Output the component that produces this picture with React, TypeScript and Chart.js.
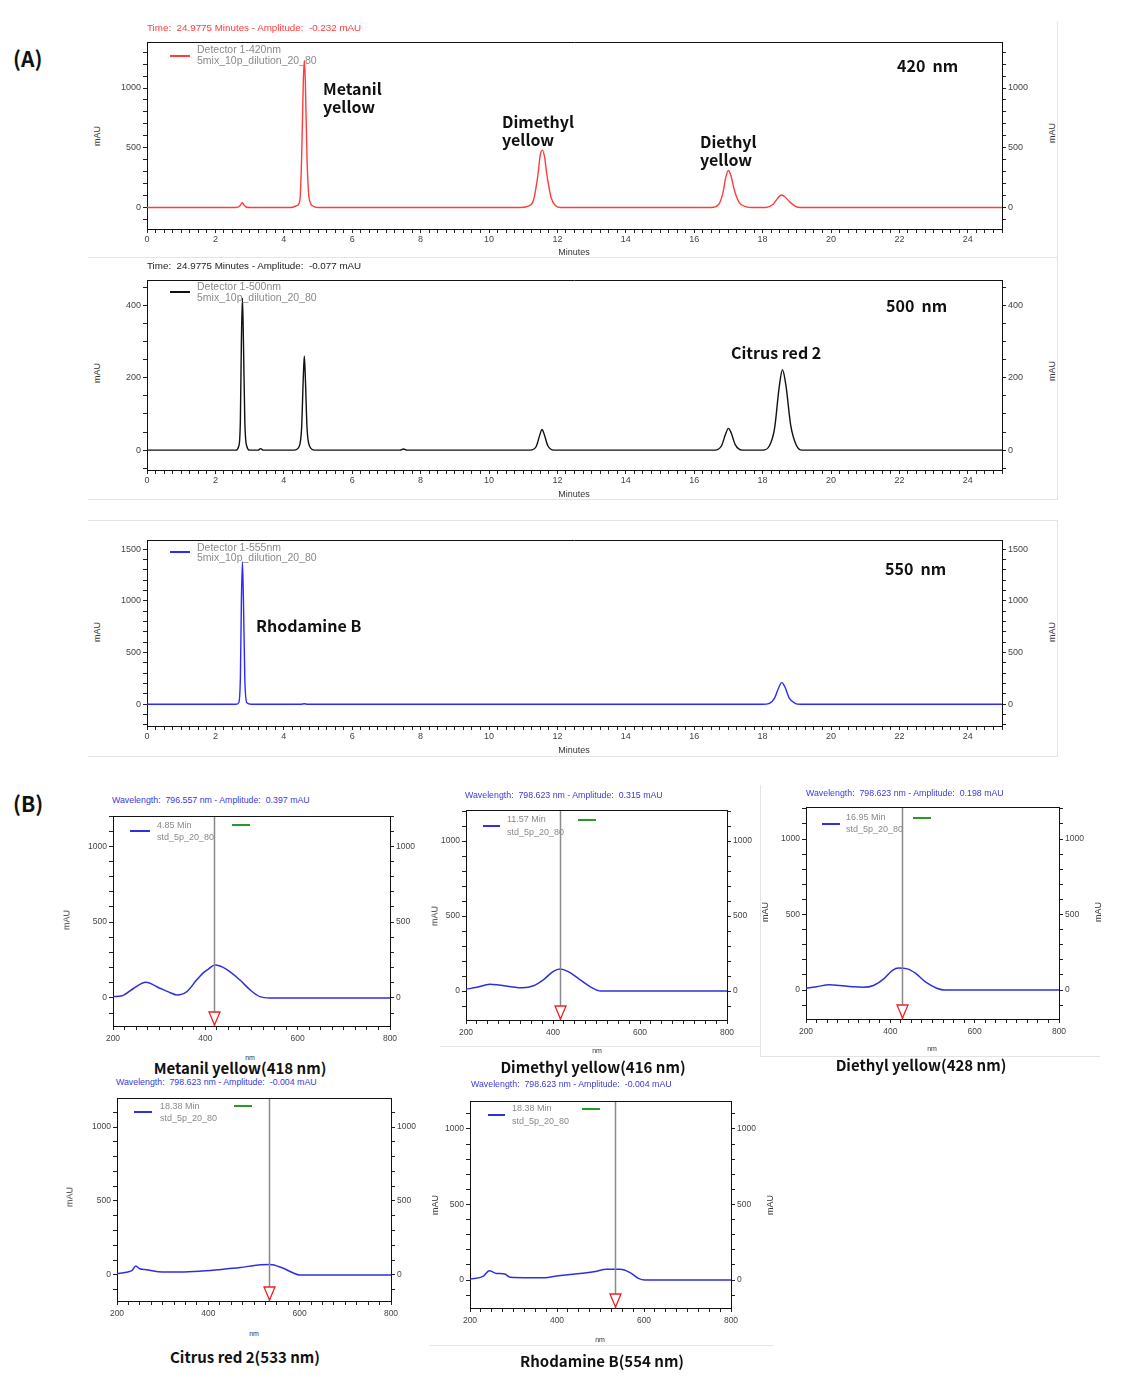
import React, { useEffect, useRef } from "react";
import { Chart, registerables } from "chart.js";
Chart.register(...registerables);

// ---------- Chromatogram data (minutes, mAU) ----------
const t420 = [0, 2.6, 2.7, 2.75, 2.79, 2.83, 2.9, 3.0, 4.2, 4.38, 4.47, 4.52, 4.57, 4.6, 4.63, 4.68, 4.74, 4.84, 5.0, 10.9, 11.15, 11.3, 11.42, 11.5, 11.56, 11.62, 11.7, 11.82, 11.95, 12.1, 16.5, 16.7, 16.83, 16.93, 17.0, 17.07, 17.18, 17.32, 17.5, 17.7, 18.1, 18.3, 18.45, 18.55, 18.65, 18.8, 18.95, 19.1, 25];
const a420 = [0, 0, 8, 28, 40, 22, 4, 0, 0, 15, 60, 400, 1050, 1230, 1050, 400, 80, 15, 0, 0, 12, 60, 250, 440, 480, 430, 260, 80, 15, 0, 0, 20, 110, 260, 310, 270, 140, 40, 8, 0, 0, 25, 80, 105, 90, 45, 12, 0, 0];

const t500 = [0, 2.6, 2.68, 2.73, 2.76, 2.79, 2.82, 2.86, 2.92, 3.0, 3.25, 3.32, 3.4, 4.3, 4.45, 4.52, 4.57, 4.6, 4.63, 4.68, 4.76, 4.9, 7.4, 7.5, 7.6, 11.2, 11.38, 11.48, 11.55, 11.62, 11.72, 11.9, 16.6, 16.8, 16.92, 17.0, 17.08, 17.2, 17.4, 18.0, 18.2, 18.35, 18.48, 18.58, 18.68, 18.82, 18.98, 19.15, 25];
const a500 = [0, 0, 10, 80, 300, 420, 300, 80, 10, 0, 0, 4, 0, 0, 10, 60, 200, 260, 200, 60, 10, 0, 0, 3, 0, 0, 10, 40, 57, 42, 12, 0, 0, 12, 45, 60, 48, 15, 0, 0, 12, 60, 170, 222, 180, 70, 15, 0, 0];

const t555 = [0, 2.6, 2.68, 2.73, 2.76, 2.79, 2.82, 2.86, 2.92, 3.05, 4.5, 4.6, 4.7, 18.0, 18.2, 18.35, 18.47, 18.56, 18.65, 18.78, 18.95, 19.1, 25];
const a555 = [0, 0, 15, 250, 1000, 1380, 1000, 250, 15, 0, 0, 5, 0, 0, 10, 60, 160, 210, 170, 60, 10, 0, 0];

const minuteLabels = [0, 2, 4, 6, 8, 10, 12, 14, 16, 18, 20, 22, 24];

// ---------- UV-Vis spectra data (nm, mAU) ----------
const nmMetanil = [200, 220, 245, 271, 300, 320, 338, 360, 381, 396, 406, 421, 446, 475, 497, 518, 540, 800];
const auMetanil = [9, 15, 64, 103, 66, 40, 20, 42, 118, 167, 189, 217, 189, 118, 53, 9, 0, 0];

const nmDimethyl = [200, 225, 255, 275, 300, 330, 355, 380, 400, 416, 435, 460, 485, 510, 800];
const auDimethyl = [12, 25, 45, 40, 30, 22, 35, 80, 130, 147, 130, 80, 30, 0, 0];

const nmDiethyl = [200, 225, 255, 280, 310, 335, 360, 385, 405, 420, 440, 460, 485, 510, 530, 800];
const auDiethyl = [12, 22, 35, 30, 22, 18, 30, 75, 130, 145, 140, 110, 50, 12, 0, 0];

const nmCitrus = [200, 220, 233, 241, 250, 265, 290, 340, 380, 420, 470, 510, 535, 560, 585, 600, 800];
const auCitrus = [8, 18, 30, 60, 42, 35, 22, 20, 25, 35, 50, 68, 70, 50, 15, 0, 0];

const nmRhod = [200, 231, 244, 261, 280, 292, 338, 372, 399, 437, 484, 514, 545, 568, 587, 602, 800];
const auRhod = [7, 26, 62, 44, 40, 18, 15, 15, 26, 38, 55, 71, 71, 49, 11, 0, 0];

const nmLabels = [200, 400, 600, 800];
const cursorNm = [418, 416, 428, 533, 533];

const SIDE = 44;
const BOT = 24;
const TOP = 10;
const TICK_FONT = "'Liberation Sans', Arial, sans-serif";

type BoxProps = {
  rect: [number, number, number, number];
  xs: number[];
  ys: number[];
  color: string;
  lw: number;
  xMin: number; xMax: number; xStep: number; xLabels: number[];
  yMin: number; yMax: number; yStep: number; yLabels: number[];
  cursor?: number;
  tickLen: number;
  xPad: number;
  fontSize: number;
};

function tickList(min: number, max: number, step: number) {
  const out: number[] = [];
  const s = Math.ceil(min / step - 1e-9);
  for (let k = s; k * step <= max + 1e-9; k++) out.push(+(k * step).toFixed(4));
  return out;
}

function ChartBox(p: BoxProps) {
  const ref = useRef<HTMLCanvasElement>(null);
  const [l, t, r, b] = p.rect;
  const W = r - l + 2 * SIDE;
  const H = b - t + TOP + BOT;
  useEffect(() => {
    if (!ref.current) return;
    const xt = tickList(p.xMin, p.xMax, p.xStep);
    const yt = tickList(p.yMin, p.yMax, p.yStep);
    const font = { family: TICK_FONT, size: p.fontSize };
    const lab = (set: number[]) => (v: any) =>
      set.some((s) => Math.abs(s - Number(v)) < 1e-6) ? String(v) : "";
    const yAxis = (pos: string) => ({
      type: "linear",
      position: pos,
      display: true,
      min: p.yMin,
      max: p.yMax,
      afterBuildTicks: (s: any) => { s.ticks = yt.map((v) => ({ value: v })); },
      afterFit: (s: any) => { s.width = SIDE; },
      ticks: { callback: lab(p.yLabels), font, color: "#444", padding: 2, autoSkip: false },
      grid: { drawOnChartArea: false, drawTicks: true, tickLength: p.tickLen, color: "#222" },
      border: { display: true, color: "#111", width: 1 },
    });
    const frame = {
      id: "frame",
      afterDraw(chart: any) {
        const { ctx, chartArea: a } = chart;
        ctx.save();
        ctx.strokeStyle = "#111";
        ctx.lineWidth = 1;
        ctx.beginPath();
        ctx.moveTo(a.left, a.top + 0.5);
        ctx.lineTo(a.right, a.top + 0.5);
        ctx.stroke();
        ctx.restore();
      },
    };
    const cursor = {
      id: "cursor",
      afterDatasetsDraw(chart: any) {
        if (p.cursor == null) return;
        const { ctx, chartArea: a } = chart;
        const x = Math.round(chart.scales.x.getPixelForValue(p.cursor)) + 0.5;
        ctx.save();
        ctx.strokeStyle = "#8a8a8a";
        ctx.lineWidth = 1.5;
        ctx.beginPath();
        ctx.moveTo(x, a.top);
        ctx.lineTo(x, a.bottom);
        ctx.stroke();
        ctx.beginPath();
        ctx.moveTo(x - 5.5, a.bottom - 14);
        ctx.lineTo(x + 5.5, a.bottom - 14);
        ctx.lineTo(x, a.bottom - 1);
        ctx.closePath();
        ctx.fillStyle = "#fff";
        ctx.fill();
        ctx.strokeStyle = "#ee2222";
        ctx.lineWidth = 1.3;
        ctx.stroke();
        ctx.restore();
      },
    };
    const chart = new Chart(ref.current, {
      type: "line",
      data: {
        datasets: [
          {
            data: p.xs.map((x, i) => ({ x, y: p.ys[i] })),
            borderColor: p.color,
            borderWidth: p.lw,
            pointRadius: 0,
            cubicInterpolationMode: "monotone",
            fill: false,
          },
        ],
      },
      options: {
        animation: false,
        responsive: false,
        maintainAspectRatio: false,
        layout: { padding: { top: TOP, left: 0, right: 0, bottom: 0 } },
        plugins: { legend: { display: false }, tooltip: { enabled: false }, title: { display: false } },
        scales: {
          x: {
            type: "linear",
            position: "bottom",
            min: p.xMin,
            max: p.xMax,
            afterBuildTicks: (s: any) => { s.ticks = xt.map((v) => ({ value: v })); },
            afterFit: (s: any) => { s.height = BOT; },
            ticks: { callback: lab(p.xLabels), font, color: "#444", padding: p.xPad, autoSkip: false, maxRotation: 0 },
            grid: { drawOnChartArea: false, drawTicks: true, tickLength: p.tickLen, color: "#222" },
            border: { display: true, color: "#111", width: 1 },
          },
          y: yAxis("left"),
          y2: yAxis("right"),
        } as any,
      },
      plugins: [frame, cursor],
    } as any);
    return () => chart.destroy();
  }, []);
  return (
    <canvas
      ref={ref}
      width={W}
      height={H}
      style={{ position: "absolute", left: l - SIDE, top: t - TOP, width: W, height: H }}
    />
  );
}

const SANS = "'Liberation Sans', Arial, sans-serif";
const BOLD = "'Noto Sans CJK KR', 'Noto Sans', sans-serif";

function T(props: { x: number; y: number; size?: number; color?: string; bold?: boolean; center?: boolean; family?: string; children: any }) {
  const { x, y, size = 9, color = "#333", bold = false, center = false, family = SANS } = props;
  return (
    <div
      style={{
        position: "absolute",
        left: x,
        top: y,
        transform: `translate(${center ? "-50%" : "0"}, -50%)`,
        fontSize: size,
        color,
        fontWeight: bold ? 700 : 400,
        fontFamily: family,
        whiteSpace: "pre",
        lineHeight: 1,
      }}
    >
      {props.children}
    </div>
  );
}

function V(props: { x: number; y: number; size?: number; children: any }) {
  return (
    <div
      style={{
        position: "absolute",
        left: props.x,
        top: props.y,
        transform: "translate(-50%, -50%) rotate(-90deg)",
        fontSize: props.size ?? 9,
        color: "#333",
        fontFamily: SANS,
        whiteSpace: "pre",
        lineHeight: 1,
      }}
    >
      {props.children}
    </div>
  );
}

function Ln(props: { x1: number; x2: number; y: number; color: string; h?: number }) {
  const h = props.h ?? 1.5;
  return (
    <div style={{ position: "absolute", left: props.x1, top: props.y - h / 2, width: props.x2 - props.x1, height: h, background: props.color }} />
  );
}

function Box(props: { l: number; t: number; r: number; b: number; sides: string }) {
  const c = "#e4e4e4";
  const s = props.sides;
  return (
    <div
      style={{
        position: "absolute",
        left: props.l,
        top: props.t,
        width: props.r - props.l,
        height: props.b - props.t,
        boxSizing: "border-box",
        borderTop: s.includes("t") ? `1px solid ${c}` : "none",
        borderRight: s.includes("r") ? `1px solid ${c}` : "none",
        borderBottom: s.includes("b") ? `1px solid ${c}` : "none",
        borderLeft: s.includes("l") ? `1px solid ${c}` : "none",
      }}
    />
  );
}

const RED = "#ff3c3c";
const BLK = "#111111";
const BLU = "#2a2aff";
const SBLU = "#2f2fe0";
const WL = "#3a3ad8";
const LEG = 10.5;

export default function App() {
  const chrom = {
    xMin: 0, xMax: 25, xStep: 0.25, xLabels: minuteLabels, lw: 1.4, tickLen: 4, xPad: 1, fontSize: 9,
  };
  const spec = {
    xMin: 200, xMax: 800, xStep: 25, xLabels: nmLabels, lw: 1.5, tickLen: 4, xPad: 4, fontSize: 8.5,
    yStep: 100, yLabels: [0, 500, 1000], color: SBLU,
  };
  return (
    <div style={{ position: "absolute", left: 0, top: 0, width: 1125, height: 1399, background: "#fff", overflow: "hidden" }}>
      {/* panel frames */}
      <Box l={88} t={22} r={1058} b={258} sides="rb" />
      <Box l={88} t={258} r={1058} b={500} sides="rb" />
      <Box l={88} t={520} r={1058} b={757} sides="trb" />
      <Box l={440} t={785} r={760} b={1047} sides="b" />
      <Box l={760} t={785} r={1100} b={1057} sides="lb" />
      <Box l={430} t={1075} r={773} b={1346} sides="b" />

      <T x={13} y={58} size={21} bold family={BOLD} color="#111">(A)</T>
      <T x={13} y={803} size={21} bold family={BOLD} color="#111">(B)</T>

      {/* Chromatogram 420 nm */}
      <ChartBox rect={[147, 42, 1002, 229]} xs={t420} ys={a420} color={RED} yMin={-180} yMax={1385} yStep={100} yLabels={[0, 500, 1000]} {...chrom} />
      <T x={147} y={28} size={9.8} color={RED}>{"Time:  24.9775 Minutes - Amplitude:  -0.232 mAU"}</T>
      <Ln x1={170} x2={190} y={56} color={RED} />
      <T x={197} y={49} size={LEG} color="#8a8a8a">Detector 1-420nm</T>
      <T x={197} y={60} size={LEG} color="#8a8a8a">5mix_10p_dilution_20_80</T>
      <T x={574} y={252} size={9} center>Minutes</T>
      <V x={97} y={136}>mAU</V>
      <V x={1052} y={133}>mAU</V>
      <T x={323} y={88} size={16} bold family={BOLD} color="#111">Metanil</T>
      <T x={323} y={106} size={16} bold family={BOLD} color="#111">yellow</T>
      <T x={502} y={121} size={16} bold family={BOLD} color="#111">Dimethyl</T>
      <T x={502} y={139} size={16} bold family={BOLD} color="#111">yellow</T>
      <T x={700} y={141} size={16} bold family={BOLD} color="#111">Diethyl</T>
      <T x={700} y={159} size={16} bold family={BOLD} color="#111">yellow</T>
      <T x={897} y={65} size={16} bold family={BOLD} color="#111">{"420  nm"}</T>

      {/* Chromatogram 500 nm */}
      <ChartBox rect={[147, 280, 1002, 470]} xs={t500} ys={a500} color={BLK} yMin={-55} yMax={470} yStep={50} yLabels={[0, 200, 400]} {...chrom} />
      <T x={147} y={266} size={9.8} color="#222">{"Time:  24.9775 Minutes - Amplitude:  -0.077 mAU"}</T>
      <Ln x1={170} x2={190} y={292} color={BLK} />
      <T x={197} y={286} size={LEG} color="#8a8a8a">Detector 1-500nm</T>
      <T x={197} y={297} size={LEG} color="#8a8a8a">5mix_10p_dilution_20_80</T>
      <T x={574} y={494} size={9} center>Minutes</T>
      <V x={97} y={373}>mAU</V>
      <V x={1052} y={371}>mAU</V>
      <T x={886} y={305} size={16} bold family={BOLD} color="#111">{"500  nm"}</T>
      <T x={731} y={352} size={16} bold family={BOLD} color="#111">Citrus red 2</T>

      {/* Chromatogram 555 nm */}
      <ChartBox rect={[147, 540, 1002, 726]} xs={t555} ys={a555} color={BLU} yMin={-210} yMax={1590} yStep={100} yLabels={[0, 500, 1000, 1500]} {...chrom} />
      <Ln x1={170} x2={190} y={552} color={BLU} />
      <T x={197} y={547} size={LEG} color="#8a8a8a">Detector 1-555nm</T>
      <T x={197} y={557} size={LEG} color="#8a8a8a">5mix_10p_dilution_20_80</T>
      <T x={574} y={750} size={9} center>Minutes</T>
      <V x={97} y={632}>mAU</V>
      <V x={1052} y={632}>mAU</V>
      <T x={885} y={568} size={16} bold family={BOLD} color="#111">{"550  nm"}</T>
      <T x={256} y={625} size={16} bold family={BOLD} color="#111">Rhodamine B</T>

      {/* Spectrum 1: Metanil yellow */}
      <ChartBox rect={[113, 816, 390, 1026]} xs={nmMetanil} ys={auMetanil} yMin={-185} yMax={1200} cursor={cursorNm[0]} {...spec} />
      <T x={112} y={800} size={8.8} color={WL}>{"Wavelength:  796.557 nm - Amplitude:  0.397 mAU"}</T>
      <Ln x1={130} x2={150} y={831} color={SBLU} />
      <T x={157} y={825} size={9} color="#8a8a8a">4.85 Min</T>
      <T x={157} y={837} size={9} color="#8a8a8a">std_5p_20_80</T>
      <Ln x1={232} x2={250} y={825} color="#2a9a2a" />
      <T x={250} y={1057} size={7} center>nm</T>
      <V x={67} y={920}>mAU</V>
      <T x={240} y={1067} size={15} bold family={BOLD} color="#111" center>Metanil yellow(418 nm)</T>

      {/* Spectrum 2: Dimethyl yellow */}
      <ChartBox rect={[466, 810, 727, 1020]} xs={nmDimethyl} ys={auDimethyl} yMin={-193} yMax={1207} cursor={cursorNm[1]} {...spec} />
      <T x={465} y={795} size={8.8} color={WL}>{"Wavelength:  798.623 nm - Amplitude:  0.315 mAU"}</T>
      <Ln x1={483} x2={500} y={826} color={SBLU} />
      <T x={507} y={819} size={9} color="#8a8a8a">11.57 Min</T>
      <T x={507} y={832} size={9} color="#8a8a8a">std_5p_20_80</T>
      <Ln x1={578} x2={596} y={820} color="#2a9a2a" />
      <T x={597} y={1050} size={7} center>nm</T>
      <V x={435} y={916}>mAU</V>
      <T x={593} y={1066} size={15} bold family={BOLD} color="#111" center>Dimethyl yellow(416 nm)</T>

      {/* Spectrum 3: Diethyl yellow */}
      <ChartBox rect={[806, 807, 1059, 1019]} xs={nmDiethyl} ys={auDiethyl} yMin={-192} yMax={1212} cursor={cursorNm[2]} {...spec} />
      <T x={806} y={793} size={8.8} color={WL}>{"Wavelength:  798.623 nm - Amplitude:  0.198 mAU"}</T>
      <Ln x1={822} x2={840} y={824} color={SBLU} />
      <T x={846} y={817} size={9} color="#8a8a8a">16.95 Min</T>
      <T x={846} y={829} size={9} color="#8a8a8a">std_5p_20_80</T>
      <Ln x1={913} x2={931} y={818} color="#2a9a2a" />
      <T x={932} y={1048} size={7} center>nm</T>
      <V x={765} y={912}>mAU</V>
      <V x={1098} y={912}>mAU</V>
      <T x={921} y={1064} size={15} bold family={BOLD} color="#111" center>Diethyl yellow(428 nm)</T>

      {/* Spectrum 4: Citrus red 2 */}
      <ChartBox rect={[117, 1098, 391, 1301]} xs={nmCitrus} ys={auCitrus} yMin={-176} yMax={1196} cursor={cursorNm[3]} {...spec} />
      <T x={116} y={1082} size={8.8} color={WL}>{"Wavelength:  798.623 nm - Amplitude:  -0.004 mAU"}</T>
      <Ln x1={134} x2={152} y={1112} color={SBLU} />
      <T x={160} y={1106} size={9} color="#8a8a8a">18.38 Min</T>
      <T x={160} y={1118} size={9} color="#8a8a8a">std_5p_20_80</T>
      <Ln x1={234} x2={252} y={1106} color="#2a9a2a" />
      <T x={254} y={1333} size={7} center>nm</T>
      <V x={70} y={1197}>mAU</V>
      <T x={245} y={1356} size={15} bold family={BOLD} color="#111" center>Citrus red 2(533 nm)</T>

      {/* Spectrum 5: Rhodamine B */}
      <ChartBox rect={[470, 1101, 731, 1308]} xs={nmRhod} ys={auRhod} yMin={-185} yMax={1185} cursor={cursorNm[4]} {...spec} />
      <T x={471} y={1084} size={8.8} color={WL}>{"Wavelength:  798.623 nm - Amplitude:  -0.004 mAU"}</T>
      <Ln x1={488} x2={505} y={1115} color={SBLU} />
      <T x={512} y={1108} size={9} color="#8a8a8a">18.38 Min</T>
      <T x={512} y={1121} size={9} color="#8a8a8a">std_5p_20_80</T>
      <Ln x1={582} x2={600} y={1109} color="#2a9a2a" />
      <T x={600} y={1339} size={7} center>nm</T>
      <V x={435} y={1205}>mAU</V>
      <V x={770} y={1205}>mAU</V>
      <T x={602} y={1360} size={15} bold family={BOLD} color="#111" center>Rhodamine B(554 nm)</T>
    </div>
  );
}
